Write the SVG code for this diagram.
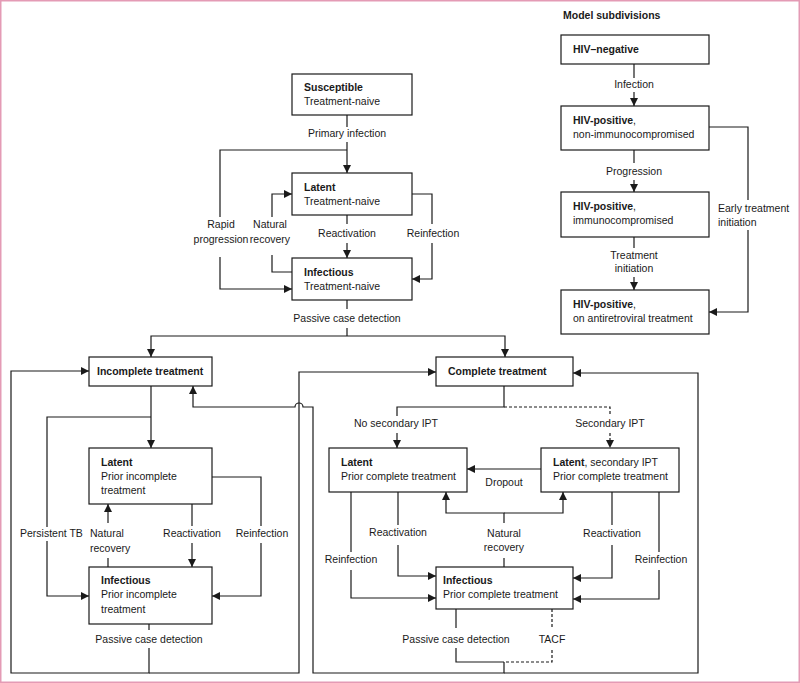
<svg xmlns="http://www.w3.org/2000/svg" width="800" height="683" viewBox="0 0 800 683">
<style>
text{font-family:"Liberation Sans",Arial,sans-serif;font-size:10.5px;fill:#1a1a1a}
.b{font-weight:bold}
.m{text-anchor:middle}
.box{fill:#fff;stroke:#1a1a1a;stroke-width:1.2}
.c path{fill:none;stroke:#1a1a1a;stroke-width:1.2}
.c path.d{stroke-dasharray:3,2}
.c path.a{marker-end:url(#arr)}
</style>
<defs>
<marker id="arr" viewBox="0 0 10 10" refX="10" refY="5" markerWidth="8" markerHeight="8" markerUnits="userSpaceOnUse" orient="auto">
<path d="M0,0 L10,5 L0,10 z" fill="#1a1a1a"/>
</marker>
</defs>
<rect x="0.75" y="0.75" width="798.5" height="681.5" fill="#fff" stroke="#e49bb5" stroke-width="1.5"/>

<g id="connectors" class="c">
<!-- model subdivisions -->
<path d="M634,64 V78"/><path class="a" d="M634,92 V106"/>
<path d="M634,150 V163"/><path class="a" d="M634,180 V192"/>
<path d="M634,237 V248"/><path class="a" d="M634,277 V290"/>
<path d="M709,127 H748 V200"/><path class="a" d="M748,230 V312 H709"/>
<!-- treatment naive -->
<path d="M347,115 V127"/><path class="a" d="M347,142 V173"/>
<path d="M347,150 H220 V217"/><path class="a" d="M220,257 V289 H292"/>
<path d="M292,272 H272 V255"/><path class="a" d="M272,217 V194 H292"/>
<path d="M347,215 V224"/><path class="a" d="M347,243 V258"/>
<path d="M412,194 H432 V224"/><path class="a" d="M432,243 V279 H412"/>
<path d="M347,300 V309"/><path d="M347,328 V336"/>
<path class="a" d="M347,336 H151 V357"/><path class="a" d="M347,336 H505 V357"/>
<!-- incomplete side -->
<path class="a" d="M149,648 V673 H11 V371 H89"/>
<path class="a" d="M149,673 H299 V372 H436"/>
<path class="a" d="M151,386 V448"/>
<path d="M151,417 H47 V527"/><path class="a" d="M47,541 V596 H89"/>
<path d="M108,567 V558"/><path class="a" d="M108,523 V504"/>
<path d="M192,504 V526"/><path class="a" d="M192,543 V567"/>
<path d="M212,477 H261 V526"/><path class="a" d="M261,543 V596 H212"/>
<path d="M149,624 V630"/>
<!-- complete side -->
<path class="a" d="M504,662 V673 H313 V407 H303 A4,4 0 0 0 295,407 H193 V386"/>
<path class="a" d="M504,673 H698 V373 H573"/>
<path d="M504,386 V407 H397 V416"/><path class="a" d="M397,433 V448"/>
<path class="d" d="M504,407 H610 V416"/><path class="a d" d="M610,433 V448"/>
<path class="a" d="M541,469 H467"/>
<path d="M504,567 V558"/>
<path class="a" d="M504,523 V513 H446 V492"/><path class="a" d="M504,513 H563 V492"/>
<path d="M398,492 V525"/><path class="a" d="M398,545 V576 H436"/>
<path d="M351,492 V552"/><path class="a" d="M351,570 V598 H436"/>
<path d="M612,492 V525"/><path class="a" d="M612,545 V578 H573"/>
<path d="M659,492 V552"/><path class="a" d="M659,570 V599 H573"/>
<path d="M456,609 V628"/><path d="M456,648 V662 H504"/>
<path class="d" d="M552,609 V628"/><path class="d" d="M552,650 V662 H504"/>
</g>

<g id="labels">
<text x="563" y="19" class="b">Model subdivisions</text>
<text x="634" y="88" class="m">Infection</text>
<text x="634" y="175" class="m">Progression</text>
<text x="634" y="259" class="m">Treatment</text>
<text x="634" y="272" class="m">initiation</text>
<text x="718" y="212">Early treatment</text>
<text x="718" y="226">initiation</text>
<text x="347" y="137" class="m">Primary infection</text>
<text x="221" y="228" class="m">Rapid</text>
<text x="221" y="243" class="m">progression</text>
<text x="270" y="228" class="m">Natural</text>
<text x="270" y="243" class="m">recovery</text>
<text x="347" y="237" class="m">Reactivation</text>
<text x="433" y="237" class="m">Reinfection</text>
<text x="347" y="322" class="m">Passive case detection</text>
<text x="20" y="537">Persistent TB</text>
<text x="90" y="537">Natural</text>
<text x="90" y="552">recovery</text>
<text x="192" y="537" class="m">Reactivation</text>
<text x="262" y="537" class="m">Reinfection</text>
<text x="149" y="643" class="m">Passive case detection</text>
<text x="396" y="427" class="m">No secondary IPT</text>
<text x="610" y="427" class="m">Secondary IPT</text>
<text x="504" y="486" class="m">Dropout</text>
<text x="504" y="537" class="m">Natural</text>
<text x="504" y="551" class="m">recovery</text>
<text x="398" y="536" class="m">Reactivation</text>
<text x="351" y="563" class="m">Reinfection</text>
<text x="612" y="537" class="m">Reactivation</text>
<text x="661" y="563" class="m">Reinfection</text>
<text x="456" y="643" class="m">Passive case detection</text>
<text x="552" y="643" class="m">TACF</text>
</g>

<g id="hiv-negative"><rect class="box" x="561" y="35" width="148" height="29"/><text x="573" y="53" class="b">HIV–negative</text></g>
<g id="hiv-nonimmuno"><rect class="box" x="561" y="106" width="148" height="44"/><text x="573" y="124"><tspan class="b">HIV-positive</tspan>,</text><text x="573" y="138">non-immunocompromised</text></g>
<g id="hiv-immuno"><rect class="box" x="561" y="192" width="148" height="45"/><text x="573" y="210"><tspan class="b">HIV-positive</tspan>,</text><text x="573" y="224">immunocompromised</text></g>
<g id="hiv-art"><rect class="box" x="561" y="290" width="148" height="44"/><text x="573" y="308"><tspan class="b">HIV-positive</tspan>,</text><text x="573" y="322">on antiretroviral treatment</text></g>

<g id="susceptible"><rect class="box" x="292" y="74" width="120" height="41"/><text x="304" y="91" class="b">Susceptible</text><text x="304" y="105">Treatment-naive</text></g>
<g id="latent-naive"><rect class="box" x="292" y="173" width="120" height="42"/><text x="304" y="191" class="b">Latent</text><text x="304" y="205">Treatment-naive</text></g>
<g id="infectious-naive"><rect class="box" x="292" y="258" width="120" height="42"/><text x="304" y="276" class="b">Infectious</text><text x="304" y="290">Treatment-naive</text></g>

<g id="incomplete-treatment"><rect class="box" x="89" y="357" width="123" height="29"/><text x="97" y="375" class="b">Incomplete treatment</text></g>
<g id="latent-incomplete"><rect class="box" x="89" y="448" width="123" height="56"/><text x="101" y="466" class="b">Latent</text><text x="101" y="480">Prior incomplete</text><text x="101" y="494">treatment</text></g>
<g id="infectious-incomplete"><rect class="box" x="89" y="567" width="123" height="57"/><text x="101" y="584" class="b">Infectious</text><text x="101" y="598">Prior incomplete</text><text x="101" y="613">treatment</text></g>

<g id="complete-treatment"><rect class="box" x="436" y="357" width="137" height="29"/><text x="448" y="375" class="b">Complete treatment</text></g>
<g id="latent-complete"><rect class="box" x="329" y="448" width="138" height="44"/><text x="341" y="466" class="b">Latent</text><text x="341" y="480">Prior complete treatment</text></g>
<g id="latent-secondary-ipt"><rect class="box" x="541" y="448" width="138" height="44"/><text x="553" y="466"><tspan class="b">Latent</tspan>, secondary IPT</text><text x="553" y="480">Prior complete treatment</text></g>
<g id="infectious-complete"><rect class="box" x="436" y="567" width="137" height="42"/><text x="443" y="584" class="b">Infectious</text><text x="443" y="598">Prior complete treatment</text></g>
</svg>
